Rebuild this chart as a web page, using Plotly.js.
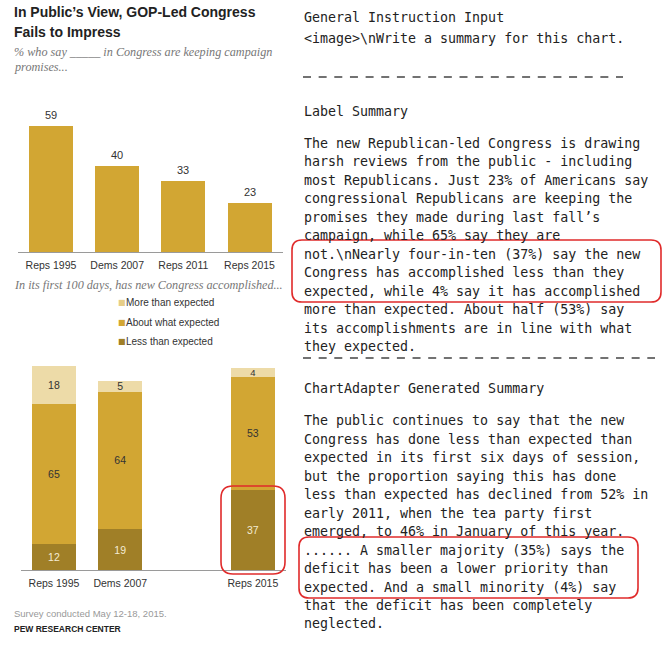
<!DOCTYPE html>
<html>
<head>
<meta charset="utf-8">
<script src="https://cdn.plot.ly/plotly-3.0.1.min.js"></script>
<style>html,body{margin:0;padding:0;background:#fff;}#chart{width:665px;height:647px;}</style>
</head>
<body>
<div id="chart"></div>
<script>
// ---- data ----
const topCats = ["Reps 1995", "Dems 2007", "Reps 2011", "Reps 2015"];
const keepingPromises = [59, 40, 33, 23];

const bottomCats = ["Reps 1995", "Dems 2007", "Reps 2015"];
const seriesNames = ["Less than expected", "About what expected", "More than expected"];
const lessThan = [12, 19, 37];
const aboutWhat = [65, 64, 53];
const moreThan = [18, 5, 4];

const titleLines = ["In Public\u2019s View, GOP-Led Congress", "Fails to Impress"];
const subtitleLines = ["% who say _____ in Congress are keeping campaign", "promises..."];
const subtitle2 = "In its first 100 days, has new Congress accomplished...";
const footNote = "Survey conducted May 12-18, 2015.";
const source = "PEW RESEARCH CENTER";

const instrHeader = "General Instruction Input";
const instrText = "&lt;image&gt;\\nWrite a summary for this chart.";
const labelHeader = "Label Summary";
const labelLines = [
  "The new Republican-led Congress is drawing",
  "harsh reviews from the public - including",
  "most Republicans. Just 23% of Americans say",
  "congressional Republicans are keeping the",
  "promises they made during last fall\u2019s",
  "campaign, while 65% say they are",
  "not.\\nNearly four-in-ten (37%) say the new",
  "Congress has accomplished less than they",
  "expected, while 4% say it has accomplished",
  "more than expected. About half (53%) say",
  "its accomplishments are in line with what",
  "they expected."
];
const genHeader = "ChartAdapter Generated Summary";
const genLines = [
  "The public continues to say that the new",
  "Congress has done less than expected than",
  "expected in its first six days of session,",
  "but the proportion saying this has done",
  "less than expected has declined from 52% in",
  "early 2011, when the tea party first",
  "emerged, to 46% in January of this year.",
  "...... A smaller majority (35%) says the",
  "deficit has been a lower priority than",
  "expected. And a small minority (4%) say",
  "that the deficit has been completely",
  "neglected."
];

// ---- styling ----
const W = 665, H = 647;
const px = p => p / W;
const py = p => 1 - p / H;
const cLight = "#EDDBA8", cMid = "#D2A633", cDark = "#A07F27";
const sans = "Liberation Sans, Arial, sans-serif";
const serif = "Liberation Serif, Times New Roman, serif";
const mono = "DejaVu Sans Mono, monospace";

const traces = [
  {type: "bar", x: topCats, y: keepingPromises, xaxis: "x", yaxis: "y",
   marker: {color: cMid}, hoverinfo: "skip"},
  {type: "bar", name: seriesNames[0], x: bottomCats, y: lessThan, xaxis: "x2", yaxis: "y2",
   marker: {color: cDark}, text: lessThan.map(String), textposition: "inside", textangle: 0,
   insidetextanchor: "middle", constraintext: "none",
   textfont: {family: sans, size: 10.5, color: "#F4EBD3"}, hoverinfo: "skip"},
  {type: "bar", name: seriesNames[1], x: bottomCats, y: aboutWhat, xaxis: "x2", yaxis: "y2",
   marker: {color: cMid}, text: aboutWhat.map(String), textposition: "inside", textangle: 0,
   insidetextanchor: "middle", constraintext: "none",
   textfont: {family: sans, size: 10.5, color: "#333"}, hoverinfo: "skip"},
  {type: "bar", name: seriesNames[2], x: bottomCats, y: moreThan, xaxis: "x2", yaxis: "y2",
   marker: {color: cLight}, text: moreThan.map(String), textposition: "inside", textangle: 0,
   insidetextanchor: "middle", constraintext: "none",
   textfont: {family: sans, size: [10.5, 10.5, 9.5], color: "#333"}, hoverinfo: "skip"}
];

const annotations = [];
function addText(text, xPx, yPx, font, extra) {
  annotations.push(Object.assign({
    text: text, xref: "paper", yref: "paper", x: px(xPx), y: py(yPx),
    xanchor: "left", yanchor: "middle", showarrow: false, align: "left", font: font
  }, extra || {}));
}

// title & subtitles
addText("<b>" + titleLines[0] + "</b>", 12, 12.5, {family: sans, size: 14, color: "#222"});
addText("<b>" + titleLines[1] + "</b>", 12, 31.5, {family: sans, size: 14, color: "#222"});
addText("<i>" + subtitleLines[0] + "</i>", 12, 52, {family: serif, size: 12.2, color: "#777"});
addText("<i>" + subtitleLines[1] + "</i>", 12, 67, {family: serif, size: 12.2, color: "#777"});
addText("<i>" + subtitle2 + "</i>", 12, 285, {family: serif, size: 12.2, color: "#777"});

// top chart value labels
keepingPromises.forEach((v, i) => {
  annotations.push({x: topCats[i], y: v, xref: "x", yref: "y", text: String(v),
    showarrow: false, yanchor: "middle", yshift: 11,
    font: {family: sans, size: 11, color: "#333"}});
});

// legend (custom)
const legendOrder = [[seriesNames[2], "#E6CD86"], [seriesNames[1], cMid], [seriesNames[0], cDark]];
const legendY = [303, 322, 341];
legendOrder.forEach((item, i) => {
  addText("<span style='color:" + item[1] + "'>\u25A0</span>", 115.5, legendY[i], {family: "DejaVu Sans", size: 8, color: item[1]});
  addText(item[0], 124, legendY[i], {family: sans, size: 10, color: "#333"});
});

// footer
addText(footNote, 12, 613, {family: sans, size: 9.5, color: "#999"});
addText("<b>" + source + "</b>", 12, 629, {family: sans, size: 8.5, color: "#222"});

// right text
const mfont = {family: mono, size: 13.3, color: "#222"};
addText(instrHeader, 302, 17, mfont);
addText(instrText, 302, 39, mfont);
addText(labelHeader, 302, 111, mfont);
labelLines.forEach((l, i) => addText(l, 302, 143.3 + i * 18.48, mfont));
addText(genHeader, 302, 388, mfont);
genLines.forEach((l, i) => addText(l, 302, 420.7 + i * 18.48, mfont));

// shapes
function roundRect(x0, y0, x1, y1, r) {
  const P = (a, b) => px(a).toFixed(5) + "," + py(b).toFixed(5);
  return "M" + P(x0 + r, y0) + " L" + P(x1 - r, y0) + " Q" + P(x1, y0) + " " + P(x1, y0 + r) +
    " L" + P(x1, y1 - r) + " Q" + P(x1, y1) + " " + P(x1 - r, y1) +
    " L" + P(x0 + r, y1) + " Q" + P(x0, y1) + " " + P(x0, y1 - r) +
    " L" + P(x0, y0 + r) + " Q" + P(x0, y0) + " " + P(x0 + r, y0) + " Z";
}
const red = "#E02B2B";
const shapes = [
  {type: "line", xref: "paper", yref: "paper", x0: px(303), x1: px(623), y0: py(77), y1: py(77),
   line: {color: "#444", width: 1.6, dash: "8px,7.65px"}},
  {type: "line", xref: "paper", yref: "paper", x0: px(303), x1: px(655), y0: py(358), y1: py(358),
   line: {color: "#444", width: 1.6, dash: "8px,7.65px"}},
  {type: "path", xref: "paper", yref: "paper", path: roundRect(292, 240, 661, 302, 10), line: {color: red, width: 1.6}},
  {type: "path", xref: "paper", yref: "paper", path: roundRect(299, 537, 638, 598, 10), line: {color: red, width: 1.6}},
  {type: "path", xref: "paper", yref: "paper", path: roundRect(221, 486, 285, 574, 12), line: {color: red, width: 1.6}}
];

const tickfont = {family: sans, size: 10.5, color: "#333"};
const layout = {
  width: W, height: H, margin: {l: 0, r: 0, t: 0, b: 0, pad: 0},
  paper_bgcolor: "#fff", plot_bgcolor: "#fff", showlegend: false,
  barmode: "stack", bargap: 0.335,
  xaxis: {domain: [px(17.9), px(282.6)], anchor: "y", type: "category",
    categoryorder: "array", categoryarray: topCats, ticklabelstandoff: 3,
    showline: true, linecolor: "#9a9a9a", linewidth: 1, ticks: "", showgrid: false,
    zeroline: false, tickfont: tickfont, fixedrange: true},
  yaxis: {domain: [py(252), py(252 - 60 * 2.14)], range: [0, 60], visible: false, fixedrange: true},
  xaxis2: {domain: [px(20.85), px(286)], anchor: "y2", type: "category",
    categoryorder: "array", categoryarray: topCats, tickmode: "array",
    tickvals: bottomCats, ticktext: bottomCats, ticklabelstandoff: 3,
    showline: true, linecolor: "#9a9a9a", linewidth: 1, ticks: "", showgrid: false,
    zeroline: false, tickfont: tickfont, fixedrange: true},
  yaxis2: {domain: [py(570), py(355)], range: [0, 100], visible: false, fixedrange: true},
  annotations: annotations,
  shapes: shapes
};

Plotly.newPlot("chart", traces, layout, {staticPlot: true, displayModeBar: false});
</script>
</body>
</html>
